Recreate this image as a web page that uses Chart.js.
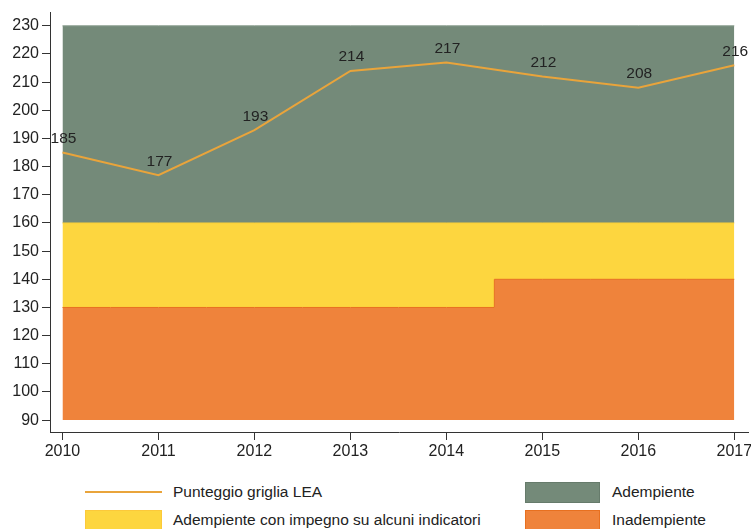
<!DOCTYPE html>
<html>
<head>
<meta charset="utf-8">
<script src="https://cdn.jsdelivr.net/npm/chart.js@4/dist/chart.umd.min.js"></script>
<style>
  html, body { margin: 0; padding: 0; background: #fff; }
  body { width: 751px; height: 529px; position: relative; overflow: hidden; font-family: 'Liberation Sans', Arial, sans-serif; }
  #wrap { position: absolute; left: 0; top: 0; width: 751px; height: 470px; }
  .lg { position: absolute; font-size: 15.5px; color: #222; line-height: 18px; white-space: nowrap; }
  .sw { position: absolute; box-sizing: border-box; }
</style>
</head>
<body>
<div id="wrap"><canvas id="c" width="751" height="470"></canvas></div>

<div class="sw" style="left:85px; top:491px; width:77px; height:2px; background:#e9a43b;"></div>
<div class="lg" style="left:173px; top:483px;">Punteggio griglia LEA</div>
<div class="sw" style="left:85px; top:510px; width:77px; height:22px; background:#fdd63f; border:1px solid #fcc93a;"></div>
<div class="lg" style="left:173px; top:511px;">Adempiente con impegno su alcuni indicatori</div>
<div class="sw" style="left:525px; top:482px; width:75px; height:21px; background:#748a79; border:1px solid #667b6b;"></div>
<div class="lg" style="left:612px; top:483px;">Adempiente</div>
<div class="sw" style="left:525px; top:510px; width:75px; height:22px; background:#ef833b; border:1px solid #e8701f;"></div>
<div class="lg" style="left:612px; top:511px;">Inadempiente</div>

<script>
// ---- data ----
const years = [2010, 2011, 2012, 2013, 2014, 2015, 2016, 2017];
const punteggio = [185, 177, 193, 214, 217, 212, 208, 216];
const sogliaInadempiente = [130, 130, 130, 130, 130, 140, 140, 140];
const sogliaImpegno = [160, 160, 160, 160, 160, 160, 160, 160];
const sogliaMassima = [230, 230, 230, 230, 230, 230, 230, 230];
const minimoGriglia = 90;
const yTicks = [90, 100, 110, 120, 130, 140, 150, 160, 170, 180, 190, 200, 210, 220, 230];
const xTicks = years;

const pts = arr => years.map((y, i) => ({ x: y, y: arr[i] }));
const FONT = "'Liberation Sans', Arial, sans-serif";

const labelPlugin = {
  id: 'valueLabels',
  afterDatasetsDraw(chart) {
    const meta = chart.getDatasetMeta(3);
    const ctx = chart.ctx;
    ctx.save();
    ctx.font = '15.5px ' + FONT;
    ctx.fillStyle = '#222';
    ctx.textAlign = 'center';
    ctx.textBaseline = 'bottom';
    meta.data.forEach((p, i) => {
      ctx.fillText(String(punteggio[i]), p.x + 1, p.y - 6);
    });
    ctx.restore();
  }
};

new Chart(document.getElementById('c'), {
  type: 'line',
  data: {
    datasets: [
      {
        label: 'Inadempiente',
        data: pts(sogliaInadempiente),
        stepped: 'middle',
        fill: { value: minimoGriglia },
        backgroundColor: '#ef833b',
        borderColor: '#e8701f',
        borderWidth: 1,
        pointRadius: 0,
        order: 1
      },
      {
        label: 'Adempiente con impegno su alcuni indicatori',
        data: pts(sogliaImpegno),
        fill: '-1',
        backgroundColor: '#fdd63f',
        borderColor: '#f8cf3a',
        borderWidth: 1,
        pointRadius: 0,
        order: 1
      },
      {
        label: 'Adempiente',
        data: pts(sogliaMassima),
        fill: '-1',
        backgroundColor: '#748a79',
        borderColor: '#8a9d8e',
        borderWidth: 1,
        pointRadius: 0,
        order: 1
      },
      {
        label: 'Punteggio griglia LEA',
        data: pts(punteggio),
        fill: false,
        borderColor: '#e9a43b',
        borderWidth: 2,
        pointRadius: 0,
        tension: 0,
        order: 0
      }
    ]
  },
  options: {
    responsive: false,
    animation: false,
    devicePixelRatio: 1,
    layout: { padding: { top: 12, right: 3, left: 0, bottom: 0 } },
    plugins: { legend: { display: false }, tooltip: { enabled: false } },
    scales: {
      x: {
        type: 'linear',
        min: 2009.87,
        max: 2017.143,
        afterBuildTicks: s => { s.ticks = xTicks.map(v => ({ value: v })); },
        afterFit: s => { s.height = 38; s.paddingRight = 0; s.paddingLeft = 0; },
        grid: { drawOnChartArea: false, tickLength: 8, color: '#333', tickColor: '#333' },
        border: { display: true, color: '#333', width: 1 },
        ticks: { color: '#222', font: { family: FONT, size: 16 }, padding: 2, maxRotation: 0, callback: v => String(v) }
      },
      y: {
        type: 'linear',
        min: 85.78,
        max: 234.7,
        afterBuildTicks: s => { s.ticks = yTicks.map(v => ({ value: v })); },
        afterFit: s => { s.width = 50; },
        grid: { drawOnChartArea: false, tickLength: 8, color: '#333', tickColor: '#333' },
        border: { display: true, color: '#333', width: 1 },
        ticks: { color: '#222', font: { family: FONT, size: 16 }, padding: 3, callback: v => String(v) }
      }
    }
  },
  plugins: [labelPlugin]
});
</script>
</body>
</html>
